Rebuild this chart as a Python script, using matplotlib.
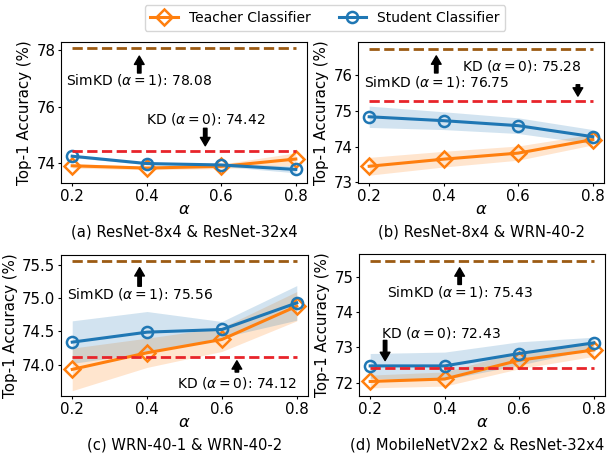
import matplotlib
matplotlib.use("Agg")
import matplotlib.pyplot as plt
import numpy as np

alphas = [0.2, 0.4, 0.6, 0.8]

titles = ["(a) ResNet-8x4 & ResNet-32x4", "(b) ResNet-8x4 & WRN-40-2",
          "(c) WRN-40-1 & WRN-40-2", "(d) MobileNetV2x2 & ResNet-32x4"]

teacher_a = [73.91, 73.83, 73.89, 74.15]
student_a = [74.25, 73.99, 73.94, 73.78]
teacher_a_std = [0.08, 0.06, 0.08, 0.22]
student_a_std = [0.05, 0.04, 0.05, 0.12]

teacher_b = [73.45, 73.65, 73.82, 74.20]
student_b = [74.84, 74.73, 74.59, 74.28]
teacher_b_std = [0.25, 0.22, 0.20, 0.15]
student_b_std = [0.30, 0.25, 0.22, 0.20]

teacher_c = [73.93, 74.18, 74.38, 74.88]
student_c = [74.34, 74.49, 74.53, 74.93]
teacher_c_std = [0.32, 0.22, 0.18, 0.22]
student_c_std = [0.32, 0.31, 0.12, 0.26]

teacher_d = [72.04, 72.11, 72.64, 72.93]
student_d = [72.48, 72.48, 72.83, 73.13]
teacher_d_std = [0.18, 0.20, 0.24, 0.18]
student_d_std = [0.35, 0.39, 0.33, 0.16]

simkd = [78.08, 76.75, 75.56, 75.43]
kd = [74.42, 75.28, 74.12, 72.43]

ylims = [(73.3, 78.3), (72.98, 76.94), (73.53, 75.65), (71.63, 75.64)]
yticks = [[74, 76, 78], [73, 74, 75, 76], [74.0, 74.5, 75.0, 75.5], [72, 73, 74, 75]]
ytick_labels = [["74", "76", "78"], ["73", "74", "75", "76"],
                ["74.0", "74.5", "75.0", "75.5"], ["72", "73", "74", "75"]]

# annotation placement: (text x, text y, arrow x, arrow y start, arrow y end)
sim_ann = [(0.38, 76.96, 0.38, 77.20, 77.80), (0.38, 75.83, 0.38, 76.07, 76.55),
           (0.38, 75.07, 0.38, 75.18, 75.46), (0.44, 74.58, 0.44, 74.78, 75.25)]
kd_ann = [(0.557, 75.56, 0.557, 75.24, 74.62), (0.61, 76.27, 0.76, 75.74, 75.42),
          (0.64, 73.72, 0.64, 73.89, 74.06), (0.39, 73.42, 0.24, 73.20, 72.63)]

teachers = [teacher_a, teacher_b, teacher_c, teacher_d]
students = [student_a, student_b, student_c, student_d]
tstds = [teacher_a_std, teacher_b_std, teacher_c_std, teacher_d_std]
sstds = [student_a_std, student_b_std, student_c_std, student_d_std]

ORANGE = "#ff7f0e"
BLUE = "#1f77b4"
BROWN = "#9c5b13"
RED = "#e8242a"

W, H = 607, 453
fig = plt.figure(figsize=(W / 100, H / 100), dpi=100)
boxes = [(61, 42, 307, 183), (358, 42, 604, 183), (61, 255, 308, 396), (359, 254, 605, 396)]
title_x = [0.5, 0.5, 0.5, 0.48]

FS = 10.8
FT = 10.6
FA = 10
lines_for_legend = None
for i, (l, t, r, b) in enumerate(boxes):
    ax = fig.add_axes([l / W, 1 - b / H, (r - l) / W, (b - t) / H])
    tch = np.array(teachers[i]); stu = np.array(students[i])
    ts = np.array(tstds[i]); ss = np.array(sstds[i])
    ax.fill_between(alphas, tch - ts, tch + ts, color=ORANGE, alpha=0.2, lw=0)
    ax.fill_between(alphas, stu - ss, stu + ss, color=BLUE, alpha=0.2, lw=0)
    lt, = ax.plot(alphas, tch, color=ORANGE, lw=2.2, marker="D", ms=8,
                  mfc="none", mew=1.8, label="Teacher Classifier")
    ls, = ax.plot(alphas, stu, color=BLUE, lw=2.2, marker="o", ms=8,
                  mfc="none", mew=1.8, label="Student Classifier")
    ax.plot([alphas[0], alphas[-1]], [simkd[i], simkd[i]], "--", color=BROWN, lw=2)
    ax.plot([alphas[0], alphas[-1]], [kd[i], kd[i]], "--", color=RED, lw=2)
    tx, ty, axx, y0, y1 = sim_ann[i]
    ax.text(tx, ty, "SimKD ($\\alpha=1$): %.2f" % simkd[i], ha="center", va="center", fontsize=FA)
    ax.annotate("", xy=(axx, y1), xytext=(axx, y0),
                arrowprops=dict(facecolor="black", edgecolor="black", width=2.5,
                                headwidth=7, headlength=6, shrink=0))
    tx, ty, axx, y0, y1 = kd_ann[i]
    ax.text(tx, ty, "KD ($\\alpha=0$): %.2f" % kd[i], ha="center", va="center", fontsize=FA)
    ax.annotate("", xy=(axx, y1), xytext=(axx, y0),
                arrowprops=dict(facecolor="black", edgecolor="black", width=2.5,
                                headwidth=7, headlength=6, shrink=0))
    ax.set_xlim(0.17, 0.83)
    ax.set_xticks(alphas)
    ax.set_xticklabels(["0.2", "0.4", "0.6", "0.8"], fontsize=FS)
    ax.set_ylim(*ylims[i])
    ax.set_yticks(yticks[i])
    ax.set_yticklabels(ytick_labels[i], fontsize=FS)
    ax.tick_params(axis="both", length=2.5, pad=1.5)
    ax.set_xlabel("$\\alpha$", fontsize=FS + 1)
    ax.xaxis.label.set_va("center")
    ax.xaxis.set_label_coords(0.5, -0.185)
    ax.set_ylabel("Top-1 Accuracy (%)", fontsize=FS, labelpad=3)
    ax.text(title_x[i], -0.345, titles[i], transform=ax.transAxes, ha="center", va="center",
            fontsize=FT)
    lines_for_legend = (lt, ls)

fig.legend(lines_for_legend, ["Teacher Classifier", "Student Classifier"],
           loc="center", bbox_to_anchor=(325 / W, 1 - 18 / H), ncol=2,
           fontsize=FA, frameon=True, handlelength=2.0, columnspacing=2.0)

fig.savefig("out.png", dpi=100)
